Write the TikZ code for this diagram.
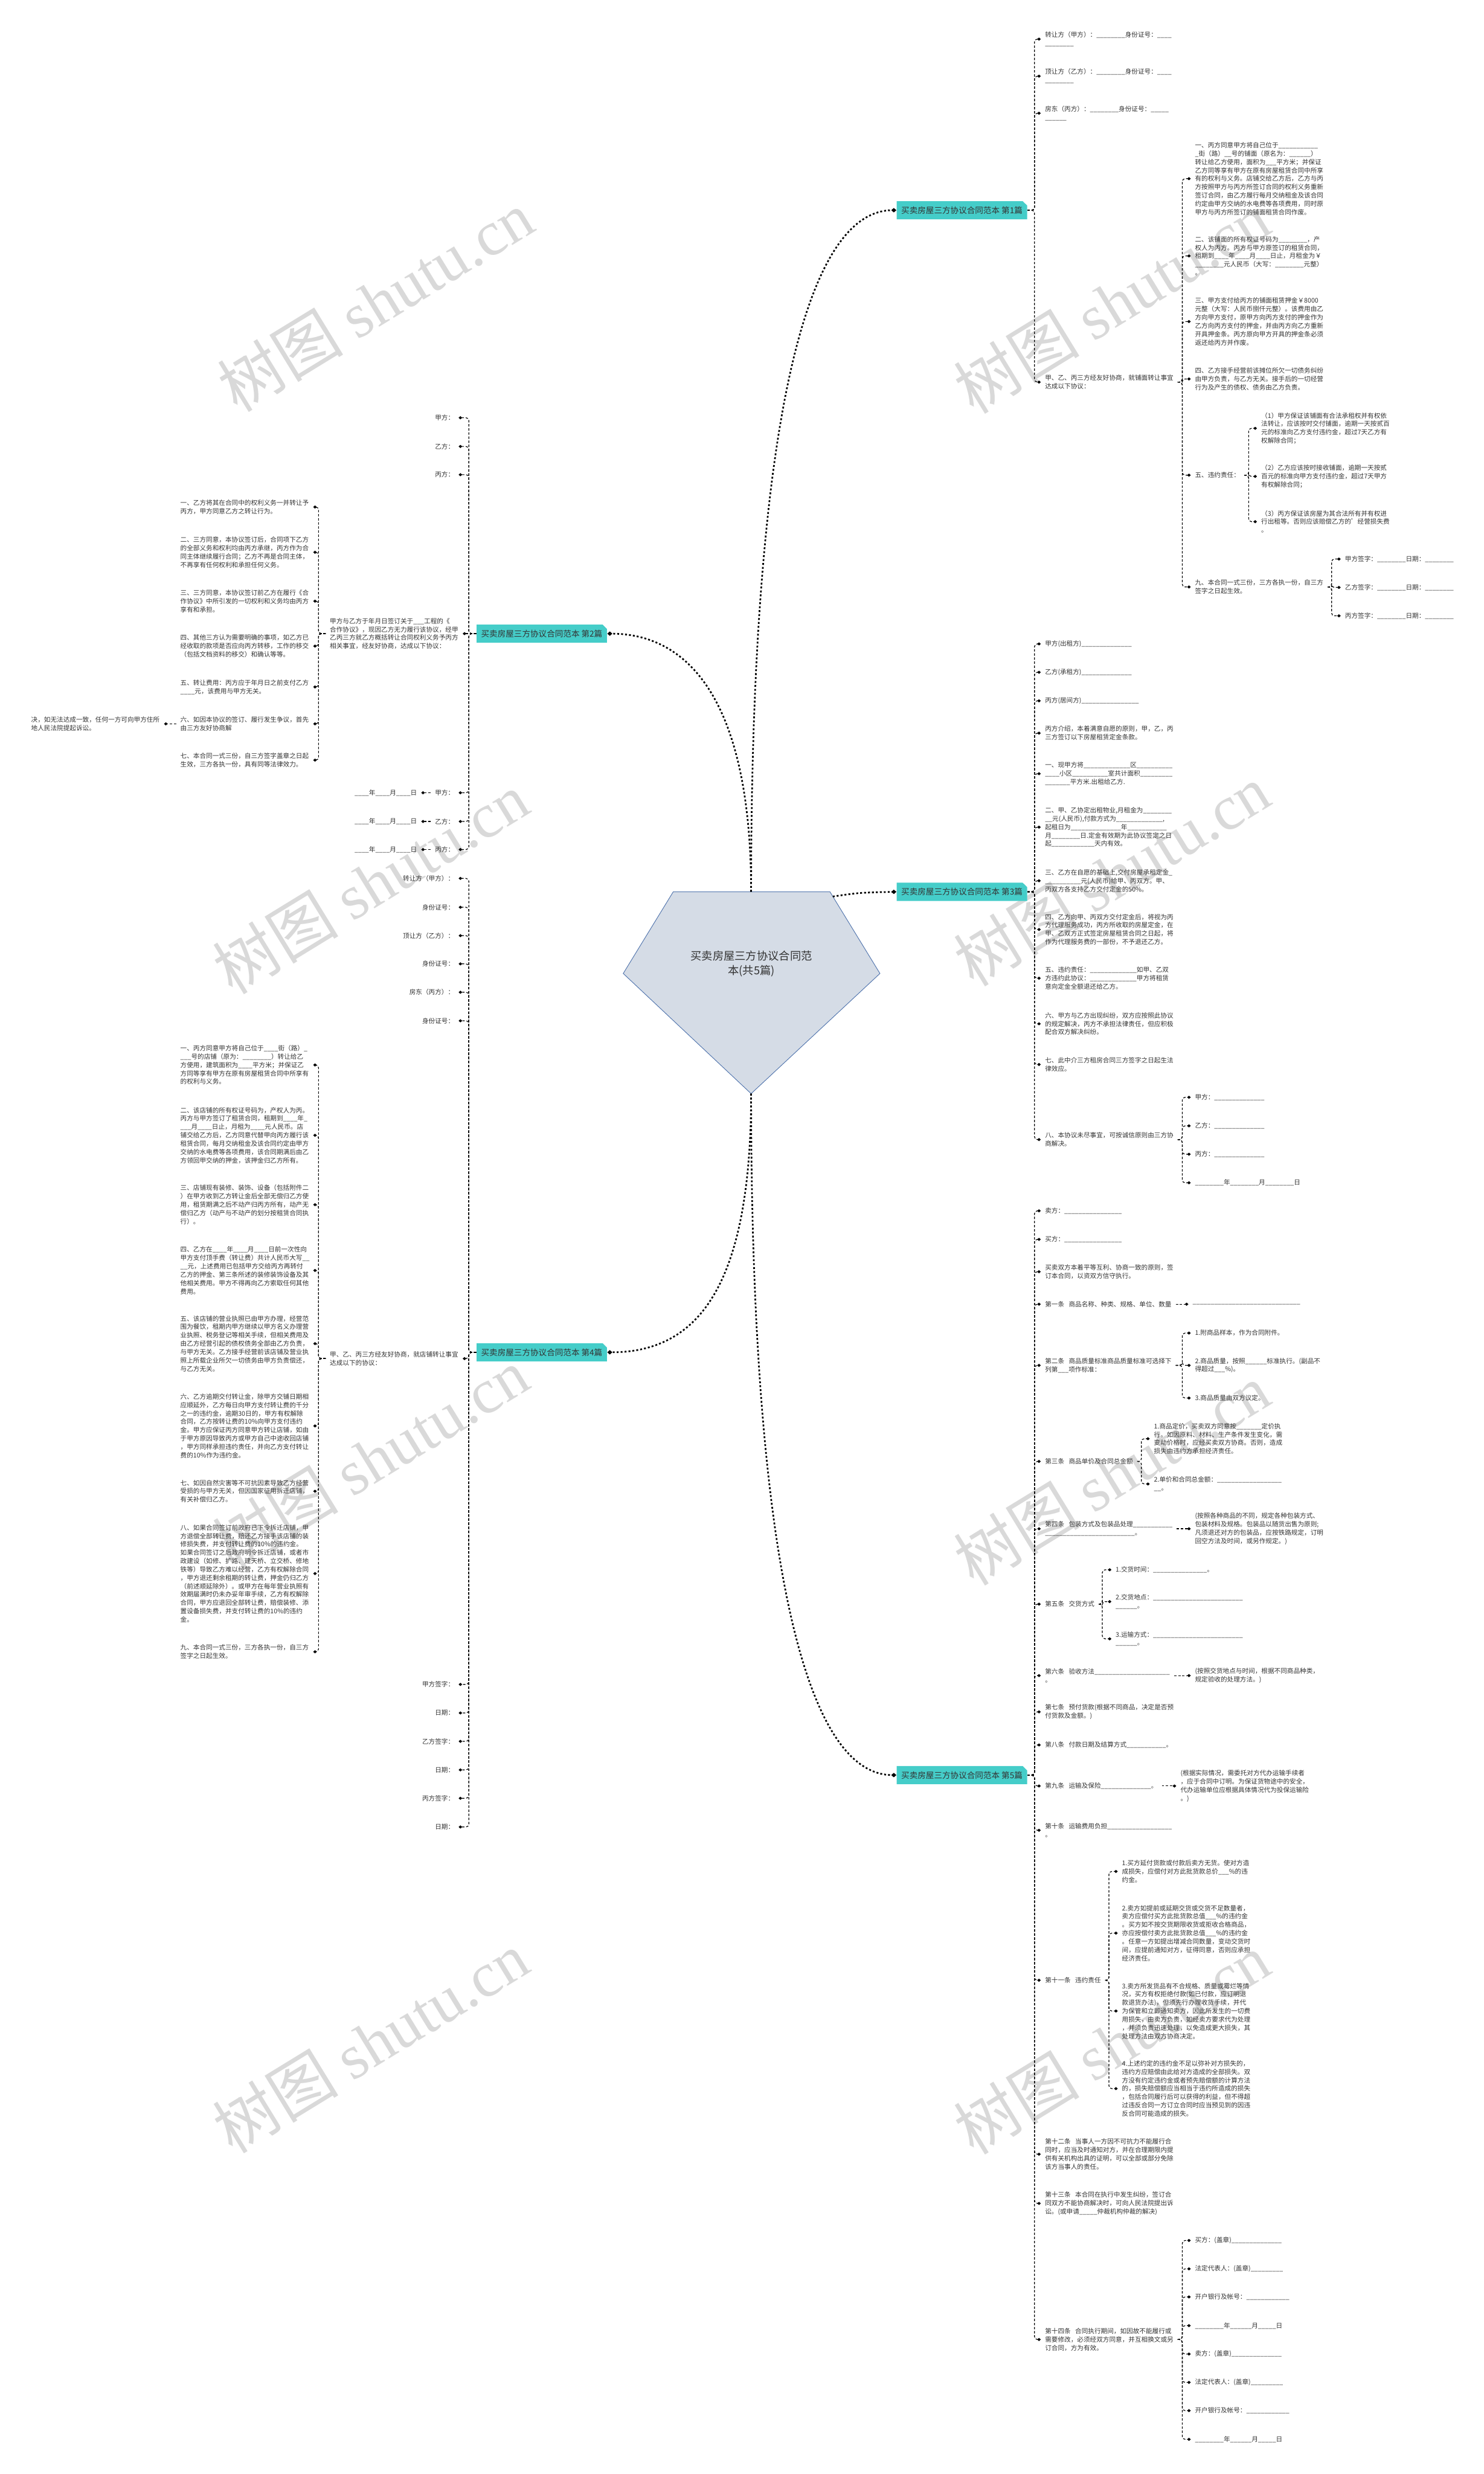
\documentclass[tikz,border=0pt]{standalone}
\usepackage{fontspec}
\setmainfont{Noto Sans CJK SC}
\newfontfamily\wmlat{Liberation Serif}
\usetikzlibrary{arrows.meta}
\definecolor{txtc}{HTML}{333333}
\definecolor{brfill}{HTML}{45CDC9}
\definecolor{pentfill}{HTML}{D5DCE6}
\definecolor{pentline}{HTML}{4E72AC}
\definecolor{wmc}{HTML}{D9D9D9}
\newcommand\jg{\hspace{0.7em}}
\newcommand\lkR[3]{\draw[sublink] (#1.east) -- (#1.east -| #2) |- (#3.west);}
\newcommand\lkL[3]{\draw[sublink] (#1.west) -- (#1.west -| #2) |- (#3.east);}
\newcommand\lkSR[2]{\draw[sublink] (#1.east) -- (#2.west);}
\newcommand\lkSL[2]{\draw[sublink] (#1.west) -- (#2.east);}
\newcommand\brbox[4]{%
  \fill[brfill] (#2,#3-5.75) -- (#2+79.9,#3-5.75) -- (#2+82.7,#3-3.0) -- (#2+82.7,#3+5.75) -- (#2,#3+5.75) -- cycle;
  \node[brtext] (#1) at (#2+41.35,#3) {#4};}
\tikzset{
  tb/.style={inner xsep=2.5pt, inner ysep=0.6pt, align=left, text=txtc, font=\fontsize{4.07}{5.3}\selectfont},
  rn/.style={tb, anchor=west},
  ln/.style={tb, anchor=east},
  lw/.style={tb, anchor=west, text width=81.5pt},
  brtext/.style={inner sep=0pt, minimum width=82.7pt, minimum height=11.5pt, text=txtc, font=\fontsize{5.2}{6}\selectfont},
  sublink/.style={draw=black, line width=0.45pt, dash pattern=on 1.5pt off 1.1pt, rounded corners=1.8pt, -{Diamond[length=2.3pt,width=2pt]}},
  mainlink/.style={draw=black, line width=1.05pt, dash pattern=on 1.2pt off 1.3pt, -{Diamond[length=3.2pt,width=2.8pt]}},
  wm/.style={text=wmc, font=\fontsize{40}{40}\selectfont, rotate=31.5, inner sep=0pt},
}
\catcode`\_=12
\begin{document}
\begin{tikzpicture}[x=1pt,y=-1pt]
\useasboundingbox (0,0) rectangle (941,1568.8);
% watermarks
\foreach \wx/\wy [count=\i] in {238/191, 705/192, 235/560, 705/555, 235/925, 705/935, 235/1295, 705/1296}
  \node[wm, name=wm\i] at (\wx,\wy) {树图 {\wmlat shutu.cn}};

% trunk x coordinates
\coordinate (TR1) at (656,0);
\coordinate (TRa) at (749.7,0);
\coordinate (TRb) at (791.8,0);
\coordinate (TRc) at (844.4,0);
\coordinate (TRd) at (723.8,0);
\coordinate (TRe) at (699,0);
\coordinate (TRg) at (703.2,0);
\coordinate (TL1) at (297.3,0);
\coordinate (TLa) at (202,0);

% centre pentagon
\coordinate (pTL) at (426.9,565.5);
\coordinate (pTR) at (526.3,565.5);
\coordinate (pR) at (558,617.3);
\coordinate (pB) at (476.3,693.5);
\coordinate (pL) at (395.2,617.3);
\coordinate (ptop) at (476.3,565.5);
\coordinate (pbot) at (476.3,693.5);
\coordinate (pside) at (528.1,568.5);
\fill[pentfill, draw=pentline, line width=0.35pt] (pTL) -- (pTR) -- (pR) -- (pB) -- (pL) -- cycle;
\node[align=center, text=txtc, font=\fontsize{7}{9.2}\selectfont, inner sep=0pt] (ctr) at (476.5,611) {买卖房屋三方协议合同范\\本(共5篇)};

% ===== Branch 1 =====
\brbox{b1}{568.6}{133.3}{买卖房屋三方协议合同范本 第1篇}
\node[rn] (a1) at (660,24.8) {转让方（甲方）：________身份证号：____\\________};
\node[rn] (a2) at (660,48.3) {顶让方（乙方）：________身份证号：____\\________};
\node[rn] (a3) at (660,71.8) {房东（丙方）：________身份证号：_____\\______};
\node[rn] (a4) at (660,242.3) {甲、乙、丙三方经友好协商，就铺面转让事宜\\达成以下协议：};
\node[rn] (a41) at (755.1,113.3) {一、丙方同意甲方将自己位于___________\\_街（路）__号的铺面（原名为：______）\\转让给乙方使用，面积为___平方米；并保证\\乙方同等享有甲方在原有房屋租赁合同中所享\\有的权利与义务。店铺交给乙方后，乙方与丙\\方按照甲方与丙方所签订合同的权利义务重新\\签订合同，由乙方履行每月交纳租金及该合同\\约定由甲方交纳的水电费等各项费用，同时原\\甲方与丙方所签订的铺面租赁合同作废。};
\node[rn] (a42) at (755.1,162.3) {二、该铺面的所有权证号码为________，产\\权人为丙方。丙方与甲方原签订的租赁合同，\\租期到____年____月____日止，月租金为￥\\________元人民币（大写：________元整）\\。};
\node[rn] (a43) at (755.1,203.9) {三、甲方支付给丙方的铺面租赁押金￥8000\\元整（大写：人民币捌仟元整）。该费用由乙\\方向甲方支付，原甲方向丙方支付的押金作为\\乙方向丙方支付的押金，并由丙方向乙方重新\\开具押金条。丙方原向甲方开具的押金条必须\\返还给丙方并作废。};
\node[rn] (a44) at (755.1,240.3) {四、乙方接手经营前该摊位所欠一切债务纠纷\\由甲方负责，与乙方无关。接手后的一切经营\\行为及产生的债权、债务由乙方负责。};
\node[rn] (a45) at (755.1,301.3) {五、违约责任：};
\node[rn] (a46) at (755.1,372.2) {九、本合同一式三份，三方各执一份，自三方\\签字之日起生效。};
\node[rn] (a451) at (797.1,271.6) {（1）甲方保证该铺面有合法承租权并有权依\\法转让，应该按时交付铺面，逾期一天按贰百\\元的标准向乙方支付违约金，超过7天乙方有\\权解除合同；};
\node[rn] (a452) at (797.1,302.1) {（2）乙方应该按时接收铺面，逾期一天按贰\\百元的标准向甲方支付违约金，超过7天甲方\\有权解除合同；};
\node[rn] (a453) at (797.1,330.8) {（3）丙方保证该房屋为其合法所有并有权进\\行出租等。否则应该赔偿乙方的'经营损失费\\。};
\node[rn] (a461) at (850.2,354.5) {甲方签字：________日期：________};
\node[rn] (a462) at (850.2,372.5) {乙方签字：________日期：________};
\node[rn] (a463) at (850.2,390.5) {丙方签字：________日期：________};

% ===== Branch 3 =====
\brbox{b3}{568.6}{565.5}{买卖房屋三方协议合同范本 第3篇}
\node[rn] (c1) at (660,408.3) {甲方(出租方)______________};
\node[rn] (c2) at (660,426.3) {乙方(承租方)______________};
\node[rn] (c3) at (660,444.4) {丙方(居间方)________________};
\node[rn] (c4) at (660,464.9) {丙方介绍，本着满意自愿的原则，甲，乙，丙\\三方签订以下房屋租赁定金条款。};
\node[rn] (c5) at (660,490.6) {一、现甲方将_____________区__________\\____小区__________室共计面积_________\\_______平方米.出租给乙方.};
\node[rn] (c6) at (660,524.5) {二、甲、乙协定出租物业,月租金为________\\__元(人民币),付款方式为_____________,\\起租日为______________年___________\\月________日.定金有效期为此协议签定之日\\起____________天内有效。};
\node[rn] (c7) at (660,558.5) {三、乙方在自愿的基础上,交付房屋承租定金_\\__________元(人民币)给甲、丙双方。甲、\\丙双方各支持乙方交付定金的50\%。};
\node[rn] (c8) at (660,589.4) {四、乙方向甲、丙双方交付定金后，将视为丙\\方代理服务成功，丙方所收取的房屋定金，在\\甲、乙双方正式签定房屋租赁合同之日起，将\\作为代理服务费的一部份，不予退还乙方。};
\node[rn] (c9) at (660,620.3) {五、违约责任：_____________如甲、乙双\\方违约此协议：_____________甲方将租赁\\意向定金全额退还给乙方。};
\node[rn] (c10) at (660,649.2) {六、甲方与乙方出现纠纷，双方应按照此协议\\的规定解决，丙方不承担法律责任，但应积极\\配合双方解决纠纷。};
\node[rn] (c11) at (660,675) {七、此中介三方租房合同三方签字之日起生法\\律效应。};
\node[rn] (c12) at (660,722.6) {八、本协议未尽事宜，可按诚信原则由三方协\\商解决。};
\node[rn] (c121) at (755.1,695.8) {甲方：______________};
\node[rn] (c122) at (755.1,713.9) {乙方：______________};
\node[rn] (c123) at (755.1,731.9) {丙方：______________};
\node[rn] (c124) at (755.1,750) {________年________月________日};

% ===== Branch 5 =====
\brbox{b5}{568.6}{1125.6}{买卖房屋三方协议合同范本 第5篇}
\node[rn] (e1) at (660,767.8) {卖方：________________};
\node[rn] (e2) at (660,785.9) {买方：________________};
\node[rn] (e3) at (660,806.4) {买卖双方本着平等互利、协商一致的原则，签\\订本合同，以资双方信守执行。};
\node[rn] (e4) at (660,827) {第一条\jg 商品名称、种类、规格、单位、数量};
\node[rn] (e5) at (660,865.8) {第二条\jg 商品质量标准商品质量标准可选择下\\列第___项作标准：};
\node[rn] (e6) at (660,926.7) {第三条\jg 商品单价及合同总金额};
\node[rn] (e7) at (660,969.4) {第四条\jg 包装方式及包装品处理___________\\_________________________。};
\node[rn] (e8) at (660,1017.2) {第五条\jg 交货方式};
\node[rn] (e9) at (660,1062.5) {第六条\jg 验收方法_____________________\\。};
\node[rn] (e10) at (660,1085.5) {第七条\jg 预付货款(根据不同商品，决定是否预\\付货款及金额。)};
\node[rn] (e11) at (660,1106.5) {第八条\jg 付款日期及结算方式___________。};
\node[rn] (e12) at (660,1132.5) {第九条\jg 运输及保险______________。};
\node[rn] (e13) at (660,1160.6) {第十条\jg 运输费用负担__________________\\。};
\node[rn] (e14) at (660,1255.7) {第十一条\jg 违约责任};
\node[rn] (e15) at (660,1366) {第十二条\jg 当事人一方因不可抗力不能履行合\\同时，应当及时通知对方，并在合理期限内提\\供有关机构出具的证明，可以全部或部分免除\\该方当事人的责任。};
\node[rn] (e16) at (660,1397.2) {第十三条\jg 本合同在执行中发生纠纷，签订合\\同双方不能协商解决时，可向人民法院提出诉\\讼。(或申请_____仲裁机构仲裁的解决)};
\node[rn] (e17) at (660,1483.5) {第十四条\jg 合同执行期间，如因故不能履行或\\需要修改，必须经双方同意，并互相换文或另\\订合同，方为有效。};
\node[rn] (e41) at (753.6,827) {______________________________};
\node[rn] (e51) at (755.1,845.3) {1.附商品样本，作为合同附件。};
\node[rn] (e52) at (755.1,865.8) {2.商品质量，按照______标准执行。(副品不\\得超过___\%)。};
\node[rn] (e53) at (755.1,886.5) {3.商品质量由双方议定。};
\node[rn] (e61) at (729.1,912.3) {1.商品定价，买卖双方同意按_______定价执\\行。如因原料、材料、生产条件发生变化，需\\变动价格时，应经买卖双方协商。否则，造成\\损失由违约方承担经济责任。};
\node[rn] (e62) at (729.1,941) {2.单价和合同总金额：__________________\\__。};
\node[rn] (e71) at (755.1,969.4) {(按照各种商品的不同，规定各种包装方式、\\包装材料及规格。包装品以随货出售为原则;\\凡须退还对方的包装品，应按铁路规定，订明\\回空方法及时间，或另作规定。)};
\node[rn] (e81) at (704.8,995.4) {1.交货时间：_______________。};
\node[rn] (e82) at (704.8,1015.6) {2.交货地点：_________________________\\______。};
\node[rn] (e83) at (704.8,1039.2) {3.运输方式：_________________________\\______。};
\node[rn] (e91) at (755.1,1062.5) {(按照交货地点与时间，根据不同商品种类，\\规定验收的处理方法。)};
\node[rn] (e121) at (745.9,1132.5) {(根据实际情况，需委托对方代办运输手续者\\，应于合同中订明。为保证货物途中的安全，\\代办运输单位应根据具体情况代为投保运输险\\。)};
\node[rn] (e141) at (708.8,1186.7) {1.买方延付货款或付款后卖方无货。使对方造\\成损失，应偿付对方此批货款总价___\%的违\\约金。};
\node[rn] (e142) at (708.8,1225.8) {2.卖方如提前或延期交货或交货不足数量者，\\卖方应偿付买方此批货款总值___\%的违约金\\。买方如不按交货期限收货或拒收合格商品，\\亦应按偿付卖方此批货款总值___\%的违约金\\。任意一方如提出增减合同数量，变动交货时\\间，应提前通知对方，征得同意，否则应承担\\经济责任。};
\node[rn] (e143) at (708.8,1275.2) {3.卖方所发货品有不合规格、质量或霉烂等情\\况，买方有权拒绝付款(如已付款，应订明退\\款退货办法)，但须先行办理收货手续，并代\\为保管和立即通知卖方，因此所发生的一切费\\用损失，由卖方负责，如经卖方要求代为处理\\，并须负责迅速处理，以免造成更大损失，其\\处理方法由双方协商决定。};
\node[rn] (e144) at (708.8,1324.4) {4.上述约定的违约金不足以弥补对方损失的，\\违约方应赔偿由此给对方造成的全部损失。双\\方没有约定违约金或者预先赔偿额的计算方法\\的，损失赔偿额应当相当于违约所造成的损失\\，包括合同履行后可以获得的利益，但不得超\\过违反合同一方订立合同时应当预见到的因违\\反合同可能造成的损失。};
\node[rn] (e171) at (755.1,1420.7) {买方：(盖章)______________};
\node[rn] (e172) at (755.1,1438.7) {法定代表人：(盖章)_________};
\node[rn] (e173) at (755.1,1456.5) {开户银行及帐号：____________};
\node[rn] (e174) at (755.1,1474.7) {________年______月_____日};
\node[rn] (e175) at (755.1,1492.7) {卖方：(盖章)______________};
\node[rn] (e176) at (755.1,1510.7) {法定代表人：(盖章)_________};
\node[rn] (e177) at (755.1,1528.6) {开户银行及帐号：____________};
\node[rn] (e178) at (755.1,1546.8) {________年______月_____日};

% ===== Branch 2 (left) =====
\brbox{b2}{302.2}{401.8}{买卖房屋三方协议合同范本 第2篇}
\node[ln] (d1) at (290.8,264.9) {甲方：};
\node[ln] (d2) at (290.8,283.1) {乙方：};
\node[ln] (d3) at (290.8,301) {丙方：};
\node[lw] (d4) at (206.5,401.8) {甲方与乙方于年月日签订关于___工程的《\\合作协议》，现因乙方无力履行该协议，经甲\\乙丙三方就乙方概括转让合同权利义务予丙方\\相关事宜，经友好协商，达成以下协议：};
\node[lw] (d41) at (111.7,321.5) {一、乙方将其在合同中的权利义务一并转让予\\丙方，甲方同意乙方之转让行为。};
\node[lw] (d42) at (111.7,350.2) {二、三方同意，本协议签订后，合同项下乙方\\的全部义务和权利均由丙方承继，丙方作为合\\同主体继续履行合同；乙方不再是合同主体，\\不再享有任何权利和承担任何义务。};
\node[lw] (d43) at (111.7,381.2) {三、三方同意，本协议签订前乙方在履行《合\\作协议》中所引发的一切权利和义务均由丙方\\享有和承担。};
\node[lw] (d44) at (111.7,409.7) {四、其他三方认为需要明确的事项，如乙方已\\经收取的款项是否应向丙方转移，工作的移交\\（包括文档资料的移交）和确认等等。};
\node[lw] (d45) at (111.7,435.6) {五、转让费用：丙方应于年月日之前支付乙方\\____元，该费用与甲方无关。};
\node[lw] (d46) at (111.7,459) {六、如因本协议的签订、履行发生争议，首先\\由三方友好协商解};
\node[lw] (d461) at (17.1,459) {决，如无法达成一致，任何一方可向甲方住所\\地人民法院提起诉讼。};
\node[lw] (d47) at (111.7,482) {七、本合同一式三份，自三方签字盖章之日起\\生效，三方各执一份，具有同等法律效力。};
\node[ln] (d5) at (290.8,502.7) {甲方：};
\node[ln] (d6) at (290.8,520.9) {乙方：};
\node[ln] (d7) at (290.8,538.7) {丙方：};
\node[ln] (d51) at (267.1,502.7) {____年____月____日};
\node[ln] (d61) at (267.1,520.9) {____年____月____日};
\node[ln] (d71) at (267.1,538.7) {____年____月____日};

% ===== Branch 4 (left) =====
\brbox{b4}{302.2}{857.5}{买卖房屋三方协议合同范本 第4篇}
\node[ln] (f1) at (290.8,557) {转让方（甲方）：};
\node[ln] (f2) at (290.8,575.3) {身份证号：};
\node[ln] (f3) at (290.8,593.3) {顶让方（乙方）：};
\node[ln] (f4) at (290.8,611.2) {身份证号：};
\node[ln] (f5) at (290.8,629.2) {房东（丙方）：};
\node[ln] (f6) at (290.8,647.3) {身份证号：};
\node[lw] (f7) at (206.5,861.5) {甲、乙、丙三方经友好协商，就店铺转让事宜\\达成以下的协议：};
\node[lw] (f71) at (111.7,675.3) {一、丙方同意甲方将自己位于____街（路）_\\___号的店铺（原为：________）转让给乙\\方使用，建筑面积为____平方米；并保证乙\\方同等享有甲方在原有房屋租赁合同中所享有\\的权利与义务。};
\node[lw] (f72) at (111.7,719.9) {二、该店铺的所有权证号码为，产权人为丙。\\丙方与甲方签订了租赁合同，租期到____年_\\___月____日止，月租为____元人民币。店\\铺交给乙方后，乙方同意代替甲向丙方履行该\\租赁合同，每月交纳租金及该合同约定由甲方\\交纳的水电费等各项费用，该合同期满后由乙\\方领回甲交纳的押金，该押金归乙方所有。};
\node[lw] (f73) at (111.7,763.9) {三、店铺现有装修、装饰、设备（包括附件二\\）在甲方收到乙方转让金后全部无偿归乙方使\\用，租赁期满之后不动产归丙方所有，动产无\\偿归乙方（动产与不动产的划分按租赁合同执\\行）。};
\node[lw] (f74) at (111.7,805.6) {四、乙方在____年____月____日前一次性向\\甲方支付顶手费（转让费）共计人民币大写__\\__元，上述费用已包括甲方交给丙方再转付\\乙方的押金、第三条所述的装修装饰设备及其\\他相关费用。甲方不得再向乙方索取任何其他\\费用。};
\node[lw] (f75) at (111.7,852) {五、该店铺的营业执照已由甲方办理，经营范\\围为餐饮，租期内甲方继续以甲方名义办理营\\业执照、税务登记等相关手续，但相关费用及\\由乙方经营引起的债权债务全部由乙方负责，\\与甲方无关。乙方接手经营前该店铺及营业执\\照上所载企业所欠一切债务由甲方负责偿还，\\与乙方无关。};
\node[lw] (f76) at (111.7,904.2) {六、乙方逾期交付转让金，除甲方交铺日期相\\应顺延外，乙方每日向甲方支付转让费的千分\\之一的违约金，逾期30日的，甲方有权解除\\合同，乙方按转让费的10\%向甲方支付违约\\金。甲方应保证丙方同意甲方转让店铺，如由\\于甲方原因导致丙方或甲方自己中途收回店铺\\，甲方同样承担违约责任，并向乙方支付转让\\费的10\%作为违约金。};
\node[lw] (f77) at (111.7,945.6) {七、如因自然灾害等不可抗因素导致乙方经营\\受损的与甲方无关，但因国家征用拆迁店铺，\\有关补偿归乙方。};
\node[lw] (f78) at (111.7,997.8) {八、如果合同签订前政府已下令拆迁店铺，甲\\方退偿全部转让费，赔还乙方接手该店铺的装\\修损失费，并支付转让费的10\%的违约金。\\如果合同签订之后政府明令拆迁店铺，或者市\\政建设（如修、扩路、建天桥、立交桥、修地\\铁等）导致乙方难以经营，乙方有权解除合同\\，甲方退还剩余租期的转让费，押金仍归乙方\\（前述顺延除外）。或甲方在每年营业执照有\\效期届满时仍未办妥年审手续，乙方有权解除\\合同，甲方应退回全部转让费，赔偿装修、添\\置设备损失费，并支付转让费的10\%的违约\\金。};
\node[lw] (f79) at (111.7,1047.4) {九、本合同一式三份，三方各执一份，自三方\\签字之日起生效。};
\node[ln] (f8) at (290.8,1068.1) {甲方签字：};
\node[ln] (f9) at (290.8,1086.2) {日期：};
\node[ln] (f10) at (290.8,1104.2) {乙方签字：};
\node[ln] (f11) at (290.8,1122.3) {日期：};
\node[ln] (f12) at (290.8,1140.3) {丙方签字：};
\node[ln] (f13) at (290.8,1158.5) {日期：};

% ===== main links =====
\draw[mainlink] (ptop) .. controls (476.3,300) and (505,133.3) .. (b1.west);
\draw[mainlink] (ptop) .. controls (476.3,450) and (440,401.8) .. (b2.east);
\draw[mainlink] (pside) .. controls (545,566) .. (b3.west);
\draw[mainlink] (pbot) .. controls (476.3,820) and (440,857.5) .. (b4.east);
\draw[mainlink] (pbot) .. controls (476.3,960) and (505,1125.6) .. (b5.west);

% ===== sub links =====
\foreach \c in {a1,a2,a3,a4} {\lkR{b1}{TR1}{\c}}
\foreach \c in {a41,a42,a43,a44,a45,a46} {\lkR{a4}{TRa}{\c}}
\foreach \c in {a451,a452,a453} {\lkR{a45}{TRb}{\c}}
\foreach \c in {a461,a462,a463} {\lkR{a46}{TRc}{\c}}
\foreach \c in {c1,c2,c3,c4,c5,c6,c7,c8,c9,c10,c11,c12} {\lkR{b3}{TR1}{\c}}
\foreach \c in {c121,c122,c123,c124} {\lkR{c12}{TRa}{\c}}
\foreach \c in {e1,e2,e3,e4,e5,e6,e7,e8,e9,e10,e11,e12,e13,e14,e15,e16,e17} {\lkR{b5}{TR1}{\c}}
\lkSR{e4}{e41}
\foreach \c in {e51,e52,e53} {\lkR{e5}{TRa}{\c}}
\foreach \c in {e61,e62} {\lkR{e6}{TRd}{\c}}
\lkSR{e7}{e71}
\foreach \c in {e81,e82,e83} {\lkR{e8}{TRe}{\c}}
\lkSR{e9}{e91}
\lkSR{e12}{e121}
\foreach \c in {e141,e142,e143,e144} {\lkR{e14}{TRg}{\c}}
\foreach \c in {e171,e172,e173,e174,e175,e176,e177,e178} {\lkR{e17}{TRa}{\c}}

\foreach \c in {d1,d2,d3,d5,d6,d7} {\lkL{b2}{TL1}{\c}}
\lkSL{b2}{d4}
\foreach \c in {d41,d42,d43,d44,d45,d46,d47} {\lkL{d4}{TLa}{\c}}
\lkSL{d46}{d461}
\lkSL{d5}{d51}
\lkSL{d6}{d61}
\lkSL{d7}{d71}
\foreach \c in {f1,f2,f3,f4,f5,f6,f7,f8,f9,f10,f11,f12,f13} {\lkL{b4}{TL1}{\c}}
\foreach \c in {f71,f72,f73,f74,f75,f76,f77,f78,f79} {\lkL{f7}{TLa}{\c}}
\end{tikzpicture}
\end{document}
